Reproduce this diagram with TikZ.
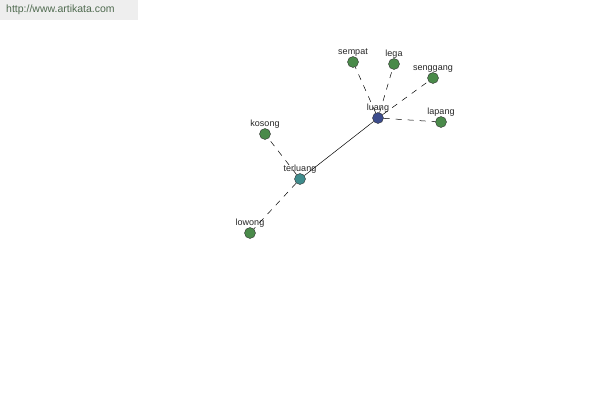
\documentclass[tikz,border=0pt]{standalone}
\usepackage{fontspec}
\setmainfont{Liberation Sans}
\definecolor{leaf}{HTML}{4A8A4A}
\definecolor{hubblue}{HTML}{3C4C8C}
\definecolor{midteal}{HTML}{3F8C8C}
\definecolor{banner}{HTML}{EEEEEE}
\definecolor{bannertext}{HTML}{4F6A4F}
\tikzset{
  word/.style={
    circle,
    draw=black!80,
    fill=leaf,
    inner sep=0pt,
    minimum size=11pt,
    label distance=1pt
  },
  every label/.style={font=\fontsize{9}{10}\selectfont, text=black!85, inner sep=0pt},
  link/.style={black, line width=0.5pt},
  weak/.style={black, line width=0.5pt, dash pattern=on 6pt off 6pt}
}
\begin{document}
\begin{tikzpicture}[x=1pt, y=-1pt]
\useasboundingbox[fill=white] (0,0) rectangle (600,400);

% --- banner ---
\fill[banner] (0,0) rectangle (138,20);
\node[font=\fontsize{10.5}{12}\selectfont, text=bannertext, anchor=west, inner sep=0pt] (site) at (6,10) {http://www.artikata.com};

% --- words ---
\node[word, fill=hubblue, label=above:luang]    (luang)    at (378,118) {};
\node[word, fill=midteal, label=above:terluang] (terluang) at (300,179) {};
\node[word, label=above:sempat]   (sempat)   at (353,62)  {};
\node[word, label=above:lega]     (lega)     at (394,64)  {};
\node[word, label=above:senggang] (senggang) at (433,78)  {};
\node[word, label=above:lapang]   (lapang)   at (441,122) {};
\node[word, label=above:kosong]   (kosong)   at (265,134) {};
\node[word, label=above:lowong]   (lowong)   at (250,233) {};

% --- links ---
\draw[link] (luang) -- (terluang);
\foreach \w in {sempat, lega, senggang, lapang}
  \draw[weak] (luang) -- (\w);
\foreach \w in {kosong, lowong}
  \draw[weak] (terluang) -- (\w);

\end{tikzpicture}
\end{document}
